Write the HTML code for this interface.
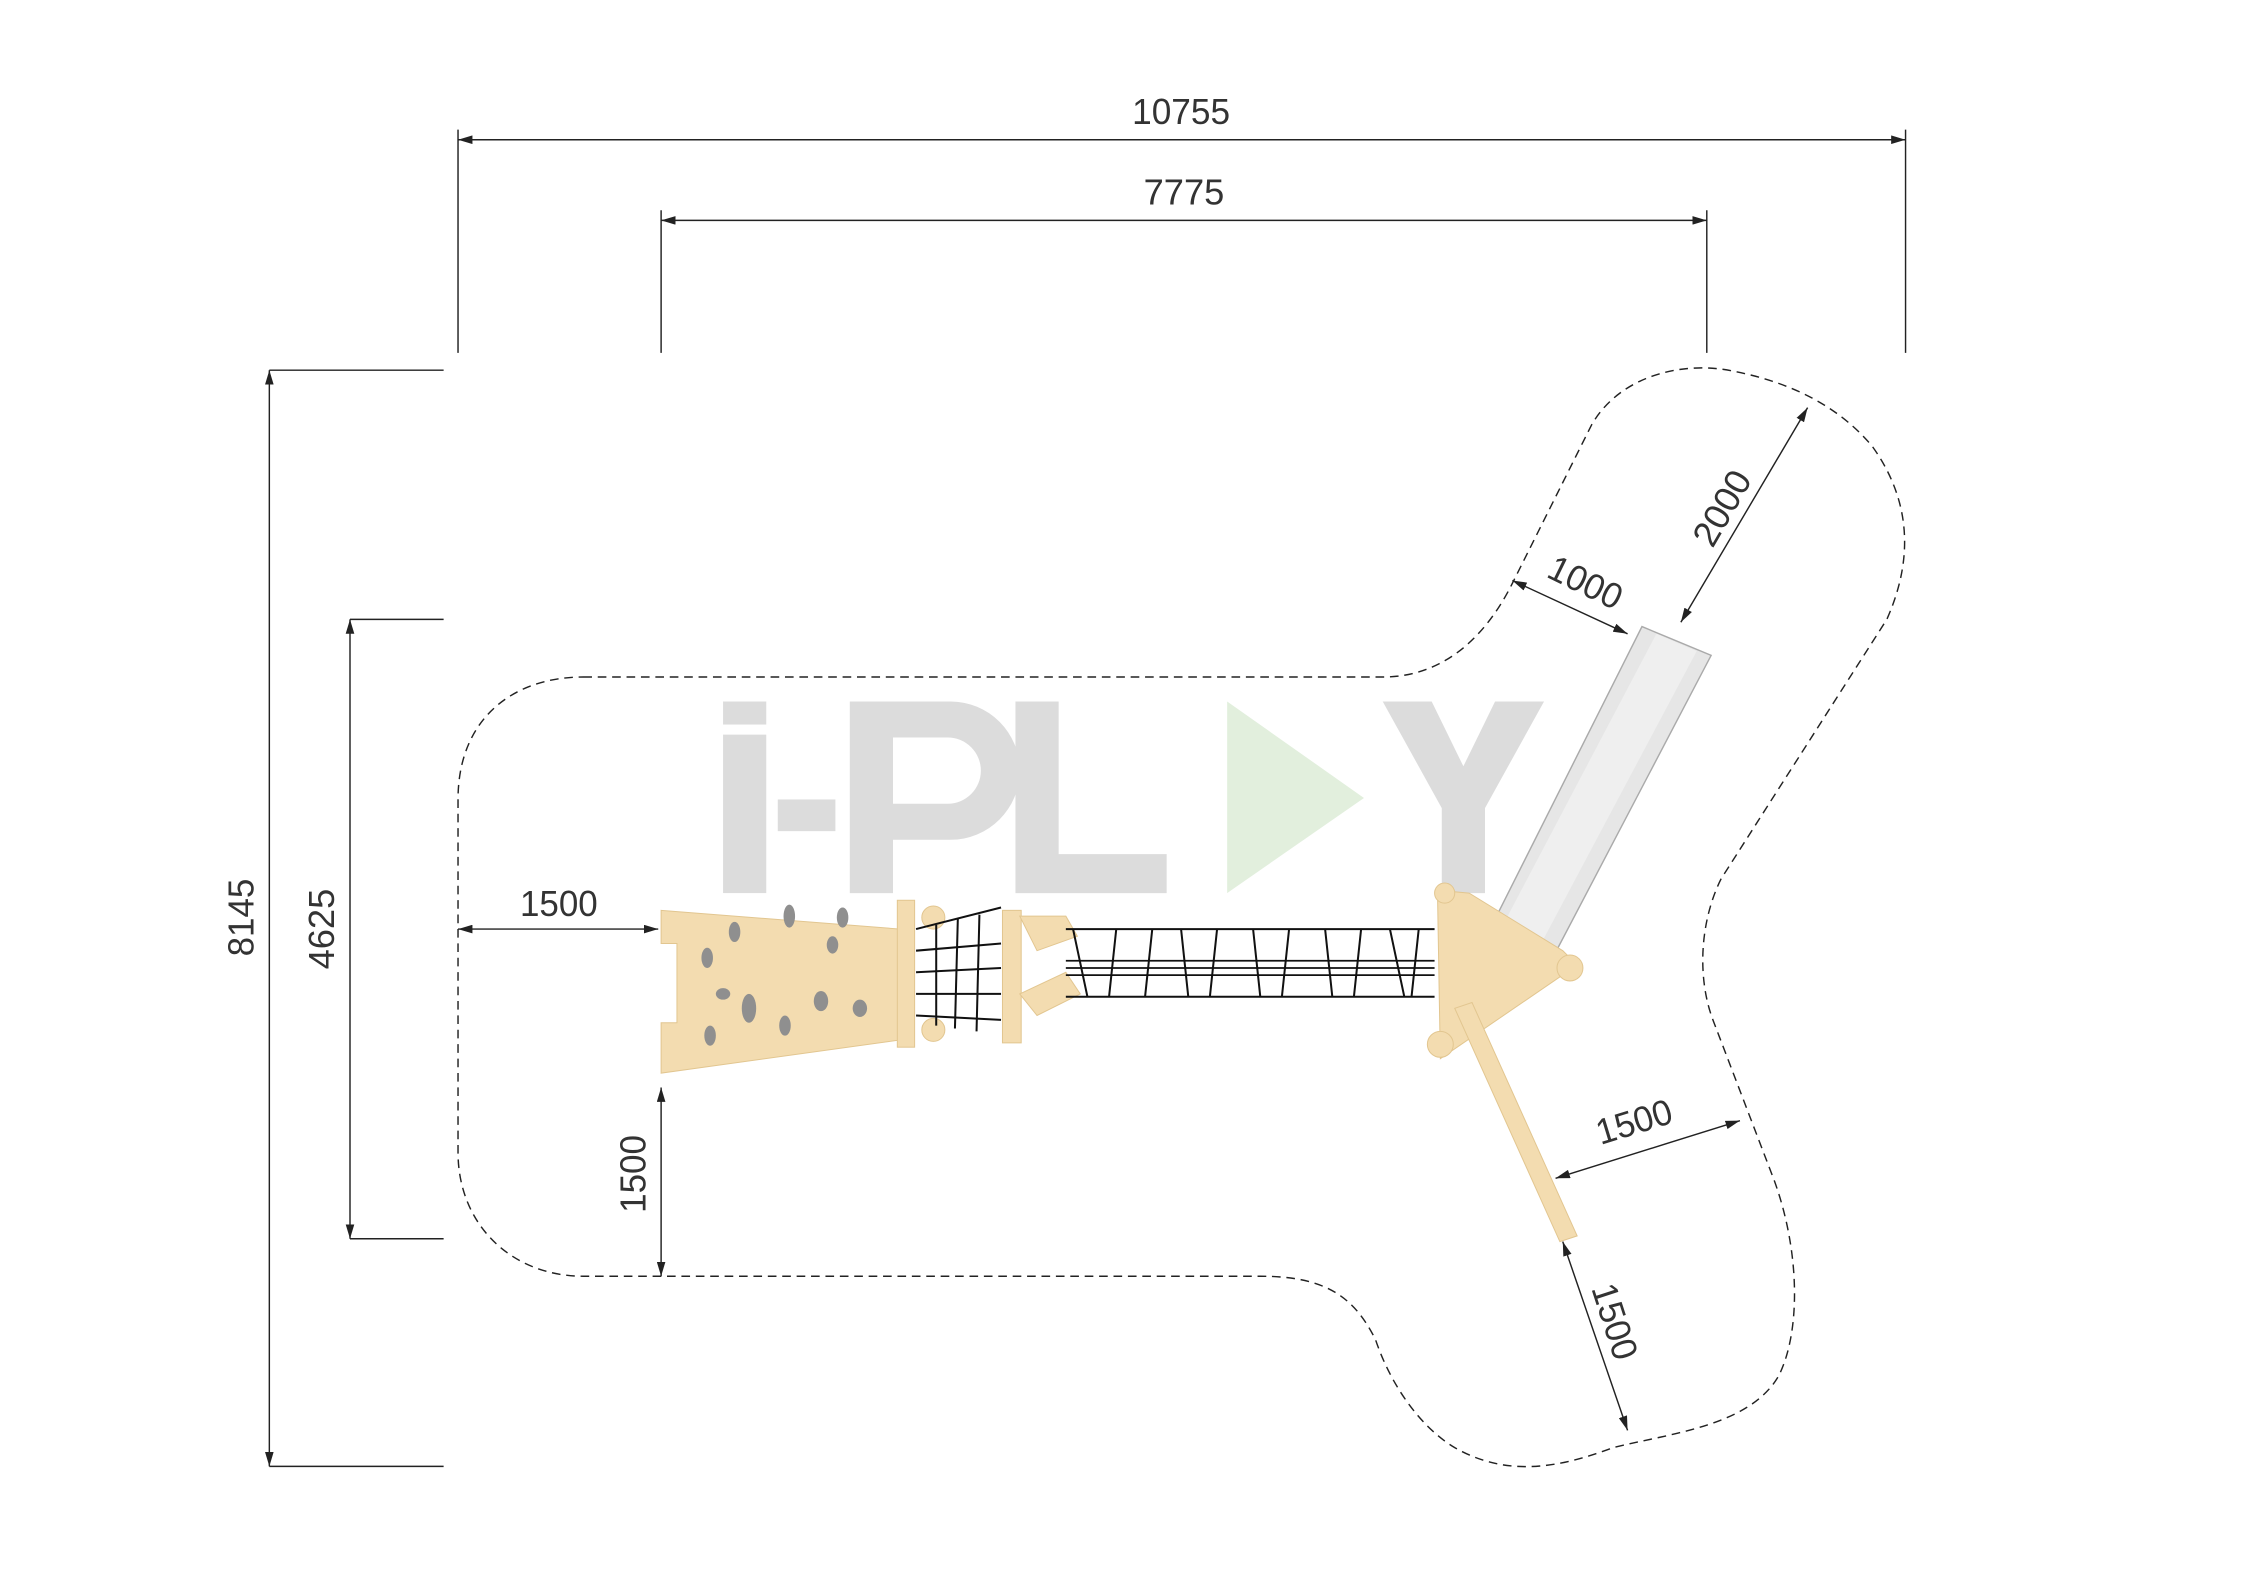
<!DOCTYPE html>
<html><head><style>html,body{margin:0;padding:0;background:#fff}svg{display:block}</style></head><body>
<svg width="2257" height="1596" viewBox="0 0 1567 1108" preserveAspectRatio="none" xmlns="http://www.w3.org/2000/svg" font-family="Liberation Sans, sans-serif">
<defs><marker id="a" viewBox="0 0 10 6" refX="10" refY="3" markerWidth="10" markerHeight="6" orient="auto-start-reverse" markerUnits="userSpaceOnUse"><path d="M0,0L10,3L0,6z" fill="#222"/></marker></defs>
<g fill="#dcdcdc">
<rect x="502" y="487" width="30" height="16"/><rect x="502" y="510" width="30" height="110"/><rect x="540" y="555" width="40" height="22"/>
<path d="M590 487h70a48 48 0 0 1 0 96h-40v37h-30zM620 512v46h38a23 23 0 0 0 0-46z"/>
<path d="M705 487h30v106h75v27h-105z"/>
<path d="M960 487h34l22 45 22-45h34l-41 74v59h-30v-59z"/>
</g>
<path d="M852 487l0 133l95-66z" fill="#e2efdd"/>
<g fill="none" stroke="#222" stroke-width="1">
<line x1="318" y1="97" x2="1323" y2="97" marker-start="url(#a)" marker-end="url(#a)"/>
<line x1="318" y1="90" x2="318" y2="245"/><line x1="1323" y1="90" x2="1323" y2="245"/>
<line x1="459" y1="153" x2="1185" y2="153" marker-start="url(#a)" marker-end="url(#a)"/>
<line x1="459" y1="146" x2="459" y2="245"/><line x1="1185" y1="146" x2="1185" y2="245"/>
<line x1="187" y1="257" x2="187" y2="1018" marker-start="url(#a)" marker-end="url(#a)"/>
<line x1="187" y1="257" x2="308" y2="257"/><line x1="187" y1="1018" x2="308" y2="1018"/>
<line x1="243" y1="430" x2="243" y2="860" marker-start="url(#a)" marker-end="url(#a)"/>
<line x1="243" y1="430" x2="308" y2="430"/><line x1="243" y1="860" x2="308" y2="860"/>
<line x1="318" y1="645" x2="457" y2="645" marker-start="url(#a)" marker-end="url(#a)"/>
<line x1="459" y1="755" x2="459" y2="886" marker-start="url(#a)" marker-end="url(#a)"/>
<line x1="1255" y1="283" x2="1167" y2="432" marker-start="url(#a)" marker-end="url(#a)"/>
<line x1="1050" y1="403" x2="1130" y2="440" marker-start="url(#a)" marker-end="url(#a)"/>
<line x1="1208" y1="778" x2="1080" y2="818" marker-start="url(#a)" marker-end="url(#a)"/>
<line x1="1085" y1="862" x2="1130" y2="993" marker-start="url(#a)" marker-end="url(#a)"/>
<path stroke-dasharray="6,4" d="M405 470 L960 470 C1000 470 1030 445 1050 405 L1105 295 C1125 260 1170 250 1205 258 C1240 265 1275 280 1300 310 C1325 345 1330 385 1310 430 L1195 610 C1180 640 1178 680 1190 710 L1232 820 C1250 870 1250 925 1235 955 C1215 990 1160 995 1120 1005 C1080 1020 1045 1025 1010 1005 C985 990 965 960 955 930 C940 900 920 886 875 886 L405 886 C355 886 318 850 318 800 L318 555 C318 500 355 470 405 470Z"/>
</g>
<g fill="#333" font-size="25" text-anchor="middle">
<text x="820" y="86" textLength="68" lengthAdjust="spacingAndGlyphs">10755</text>
<text x="822" y="142" textLength="56" lengthAdjust="spacingAndGlyphs">7775</text>
<text x="388" y="636" textLength="54" lengthAdjust="spacingAndGlyphs">1500</text>
<text transform="translate(176,637) rotate(-90)" textLength="54" lengthAdjust="spacingAndGlyphs">8145</text>
<text transform="translate(232,645) rotate(-90)" textLength="56" lengthAdjust="spacingAndGlyphs">4625</text>
<text transform="translate(448,815) rotate(-90)" textLength="54" lengthAdjust="spacingAndGlyphs">1500</text>
<text transform="translate(1203,357) rotate(-60)" textLength="56" lengthAdjust="spacingAndGlyphs">2000</text>
<text transform="translate(1097,412) rotate(26)" textLength="54" lengthAdjust="spacingAndGlyphs">1000</text>
<text transform="translate(1137,787) rotate(-17)" textLength="54" lengthAdjust="spacingAndGlyphs">1500</text>
<text transform="translate(1113,920) rotate(72)" textLength="54" lengthAdjust="spacingAndGlyphs">1500</text>
</g>
<path d="M1140 435 L1188 455 L1078 665 L1032 650Z" fill="#e6e6e6" stroke="#aaa"/>
<path d="M1150 440 L1178 452 L1070 655 L1042 645Z" fill="#efefef"/>
<g fill="#f3dcb0" stroke="#e2c690" stroke-width="0.7">
<path d="M459 632 L625 645 L625 722 L459 745 L459 710 L470 710 L470 655 L459 655Z"/>
<rect x="623" y="625" width="12" height="102"/>
<circle cx="648" cy="637" r="8"/><circle cx="648" cy="715" r="8"/>
<rect x="696" y="632" width="13" height="92"/>
<path d="M708 636 L740 636 L748 650 L720 660Z"/><path d="M708 690 L740 675 L750 690 L720 705Z"/>
<path d="M998 618 L1000 735 L1095 670 L1085 660 L1020 620Z"/>
<circle cx="1003" cy="620" r="7"/><circle cx="1090" cy="672" r="9"/><circle cx="1000" cy="725" r="9"/>
<path d="M1010 700 L1022 696 L1095 858 L1083 862Z"/>
</g>
<g fill="#8f8f8f"><ellipse cx="491" cy="665" rx="4" ry="7"/><ellipse cx="502" cy="690" rx="5" ry="4"/><ellipse cx="510" cy="647" rx="4" ry="7"/><ellipse cx="520" cy="700" rx="5" ry="10"/><ellipse cx="548" cy="636" rx="4" ry="8"/><ellipse cx="545" cy="712" rx="4" ry="7"/><ellipse cx="570" cy="695" rx="5" ry="7"/><ellipse cx="578" cy="656" rx="4" ry="6"/><ellipse cx="585" cy="637" rx="4" ry="7"/><ellipse cx="597" cy="700" rx="5" ry="6"/><ellipse cx="493" cy="719" rx="4" ry="7"/></g>
<g stroke="#111" stroke-width="1.4" fill="none">
<path d="M636 645 L695 630 M636 660 L695 655 M636 675 L695 672 M636 690 L695 690 M636 705 L695 708"/>
<path d="M650 642 L650 712 M665 638 L663 714 M680 635 L678 716"/>
<path d="M740 645 L996 645 M740 692 L996 692"/>
<path d="M740 667 L996 667 M740 672 L996 672 M740 677 L996 677" stroke-width="1.2"/>
<path d="M745 645 L755 692 M775 645 L770 692 M800 645 L795 692 M820 645 L825 692 M845 645 L840 692 M870 645 L875 692 M895 645 L890 692 M920 645 L925 692 M945 645 L940 692 M965 645 L975 692 M985 645 L980 692"/>
</g>
</svg>
</body></html>
